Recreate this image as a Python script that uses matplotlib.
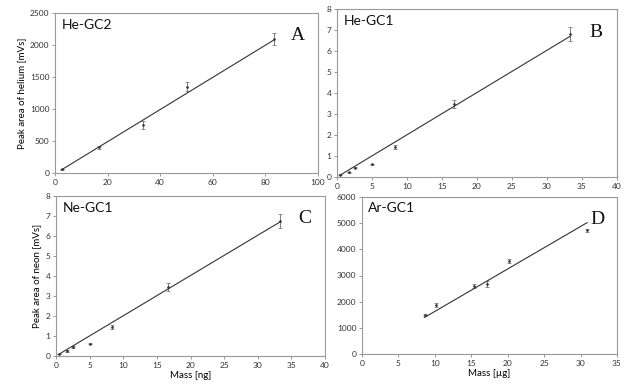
import matplotlib.pyplot as plt

plt.rcParams['font.family'] = ['Lato', 'DejaVu Sans']

# He-GC2 (A)
a_x = [2.5, 16.7, 33.3, 50.0, 83.3]
a_y = [60, 400, 750, 1350, 2090]
a_err = [10, 25, 55, 70, 95]
a_fit_x = [2.5, 83.3]
a_fit_y = [50, 2080]

# He-GC1 (B) and Ne-GC1 (C)
b_x = [0.4, 1.7, 2.5, 5.0, 8.3, 16.7, 33.3]
b_y = [0.1, 0.22, 0.45, 0.6, 1.42, 3.47, 6.8]
b_err = [0.02, 0.03, 0.03, 0.03, 0.08, 0.18, 0.33]
b_fit_x = [0.4, 33.3]
b_fit_y = [0.08, 6.7]

c_x = [0.4, 1.7, 2.5, 5.0, 8.3, 16.7, 33.3]
c_y = [0.1, 0.25, 0.45, 0.62, 1.45, 3.45, 6.75]
c_err = [0.02, 0.03, 0.03, 0.03, 0.08, 0.18, 0.35]
c_fit_x = [0.4, 33.3]
c_fit_y = [0.08, 6.7]

# Ar-GC1 (D)
d_x = [8.6, 10.1, 15.4, 17.2, 20.2, 30.9]
d_y = [1480, 1870, 2600, 2680, 3550, 4720]
d_err = [40, 60, 60, 120, 90, 40]
d_fit_x = [8.6, 30.9]
d_fit_y = [1400, 5020]

W, H = 633, 390
fig = plt.figure(figsize=(W / 100, H / 100), dpi=100)


def box(l, r, t, b):
    return [l / W, 1 - b / H, (r - l) / W, (b - t) / H]


panels = [
    (box(55, 318, 13, 173), a_x, a_y, a_err, a_fit_x, a_fit_y, (0, 100), (0, 2500),
     range(0, 101, 20), range(0, 2501, 500), 'He-GC2', 'A',
     'Peak area of helium [mVs]', None),
    (box(337, 617, 9, 177), b_x, b_y, b_err, b_fit_x, b_fit_y, (0, 40), (0, 8),
     range(0, 41, 5), range(0, 9), 'He-GC1', 'B', None, None),
    (box(56, 325, 196, 356), c_x, c_y, c_err, c_fit_x, c_fit_y, (0, 40), (0, 8),
     range(0, 41, 5), range(0, 9), 'Ne-GC1', 'C',
     'Peak area of neon [mVs]', 'Mass [ng]'),
    (box(362, 617, 197, 354), d_x, d_y, d_err, d_fit_x, d_fit_y, (0, 35), (0, 6000),
     range(0, 36, 5), range(0, 6001, 1000), 'Ar-GC1', 'D', None, 'Mass [µg]'),
]

for rect, x, y, err, fx, fy, xl, yl, xt, yt, name, letter, ylab, xlab in panels:
    ax = fig.add_axes(rect)
    ax.errorbar(x, y, yerr=err, fmt='o', ms=0.9, color='#333344',
                ecolor='#666666', elinewidth=0.6, capsize=1.3, capthick=0.5)
    ax.plot(fx, fy, color='#333333', lw=0.8)
    ax.set_xlim(*xl)
    ax.set_ylim(*yl)
    ax.set_xticks(list(xt))
    ax.set_yticks(list(yt))
    ax.tick_params(labelsize=6, length=2, width=0.6, color='#888888',
                   labelcolor='#333333', pad=2)
    for s in ax.spines.values():
        s.set_color('#999999')
        s.set_linewidth(0.8)
    ax.text(0.025, 0.965, name, transform=ax.transAxes, fontsize=10,
            va='top', ha='left', color='#111111')
    ax.text(0.95, 0.91, letter, transform=ax.transAxes, fontsize=14,
            va='top', ha='right', family='Liberation Serif', color='#111111')
    if ylab:
        ax.set_ylabel(ylab, fontsize=7, labelpad=3)
    if xlab:
        ax.set_xlabel(xlab, fontsize=7, labelpad=2)

fig.savefig('out.png', dpi=100)
